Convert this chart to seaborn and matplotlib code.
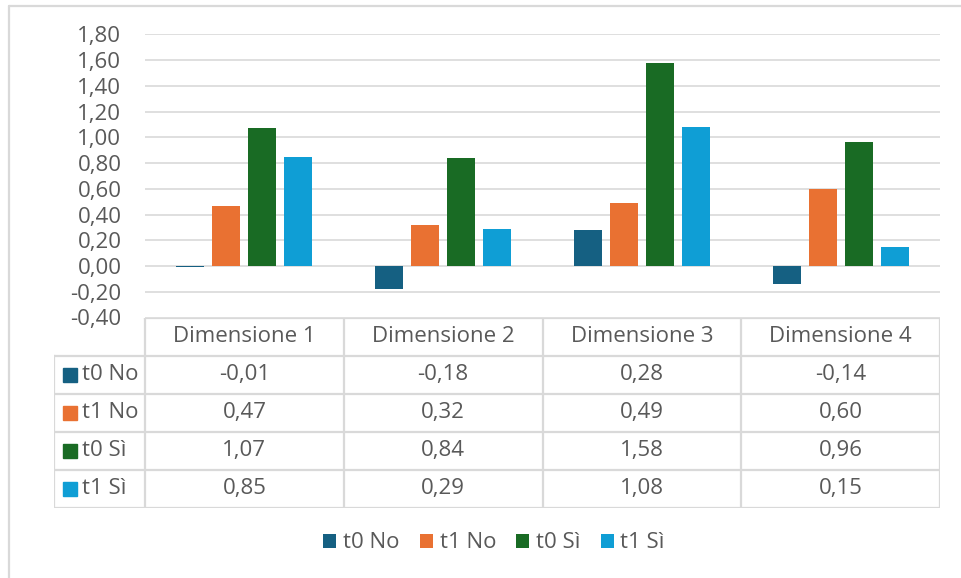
import matplotlib
matplotlib.use("Agg")
import matplotlib.pyplot as plt
from matplotlib.lines import Line2D
from matplotlib.patches import Patch
from matplotlib.ticker import FixedLocator, FuncFormatter
import seaborn as sns
import pandas as pd

# Data
categories = ["Dimensione 1", "Dimensione 2", "Dimensione 3", "Dimensione 4"]
series = ["t0 No", "t1 No", "t0 Sì", "t1 Sì"]
t0_no = [-0.01, -0.18, 0.28, -0.14]
t1_no = [0.47, 0.32, 0.49, 0.60]
t0_si = [1.07, 0.84, 1.58, 0.96]
t1_si = [0.85, 0.29, 1.08, 0.15]
y_ticks = [-0.40, -0.20, 0.00, 0.20, 0.40, 0.60, 0.80, 1.00, 1.20, 1.40, 1.60, 1.80]

colors = ["#156082", "#E97132", "#196B24", "#0F9ED5"]
text_col = "#595959"
grid_col = "#D9D9D9"
FS = 16

values = [t0_no, t1_no, t0_si, t1_si]
df = pd.DataFrame(
    [(c, s, v) for s, vals in zip(series, values) for c, v in zip(categories, vals)],
    columns=["Dimensione", "Serie", "Valore"],
)

sns.set_theme(style="white")
plt.rcParams["font.family"] = ["Open Sans", "DejaVu Sans"]

W, H = 961, 578
fig = plt.figure(figsize=(W / 100, H / 100), dpi=100)
fig.patch.set_facecolor("white")

def fx(px):
    return px / W

def fy(py):
    return 1 - py / H

def fmt(v):
    return f"{v:.2f}".replace(".", ",")

# Plot area
x0, x1 = 145, 940
ytop, ybot = 34.3, 317.5
ax = fig.add_axes([fx(x0), fy(ybot), fx(x1 - x0), (ybot - ytop) / H])
sns.barplot(
    data=df, x="Dimensione", y="Valore", hue="Serie",
    order=categories, hue_order=series, palette=colors, saturation=1,
    width=0.724, gap=0.22, linewidth=0, ax=ax, legend=False,
)
ax.set_xlim(-0.5, 3.5)
ax.set_ylim(y_ticks[0], y_ticks[-1])
ax.yaxis.set_major_locator(FixedLocator(y_ticks))
ax.yaxis.set_major_formatter(FuncFormatter(lambda v, p: fmt(v)))
ax.grid(axis="y", color=grid_col, linewidth=1.2)
ax.set_axisbelow(True)
for sp in ax.spines.values():
    sp.set_visible(False)
ax.set_xticks([])
ax.set_xlabel("")
ax.set_ylabel("")
ax.tick_params(axis="y", length=0, pad=17, labelsize=FS, labelcolor=text_col)

# Data table below the plot area
t_left, t_top, t_bot = 54, 317.5, 507.5
tab = fig.add_axes([fx(t_left), fy(t_bot), fx(x1 - t_left), (t_bot - t_top) / H])
unit = (x1 - x0) / 4
xl = -0.5 - (x0 - t_left) / unit
tab.set_xlim(xl, 3.5)
tab.set_ylim(5, 0)
tab.axis("off")
lkw = dict(color=grid_col, linewidth=1.6, solid_capstyle="projecting")
tab.plot([-0.5, 3.5], [0, 0], **lkw)
for r in range(1, 6):
    tab.plot([xl, 3.5], [r, r], **lkw)
tab.plot([xl, xl], [1, 5], **lkw)
for cx in [-0.5, 0.5, 1.5, 2.5, 3.5]:
    tab.plot([cx, cx], [0, 5], **lkw)

for i, cat in enumerate(categories):
    tab.text(i, 0.5, cat, ha="center", va="center", fontsize=FS, color=text_col)
for r, (name, vals, col) in enumerate(zip(series, values, colors), start=1):
    tab.plot([xl + 16 / unit], [r + 0.5], marker="s", markersize=9.4,
             color=col, linestyle="none")
    tab.text(xl + 28 / unit, r + 0.5, name, ha="left", va="center",
             fontsize=FS, color=text_col)
    for i, v in enumerate(vals):
        tab.text(i, r + 0.5, fmt(v), ha="center", va="center",
                 fontsize=FS, color=text_col)

# Legend
handles = [Patch(facecolor=c, edgecolor="none", label=s) for s, c in zip(series, colors)]
fig.legend(
    handles=handles, loc="center", bbox_to_anchor=(fx(494), fy(543)),
    ncol=4, frameon=False, fontsize=FS, handlelength=0.6, handleheight=0.6,
    handletextpad=0.3, columnspacing=0.9, labelcolor=text_col,
)

# Chart frame
fig.add_artist(Line2D([fx(9), 1.0], [fy(6), fy(6)], color=grid_col, linewidth=1.6,
                      transform=fig.transFigure))
fig.add_artist(Line2D([fx(9), fx(9)], [fy(6), 0.0], color=grid_col, linewidth=1.6,
                      transform=fig.transFigure))

fig.savefig("out.png", dpi=100, facecolor="white")
